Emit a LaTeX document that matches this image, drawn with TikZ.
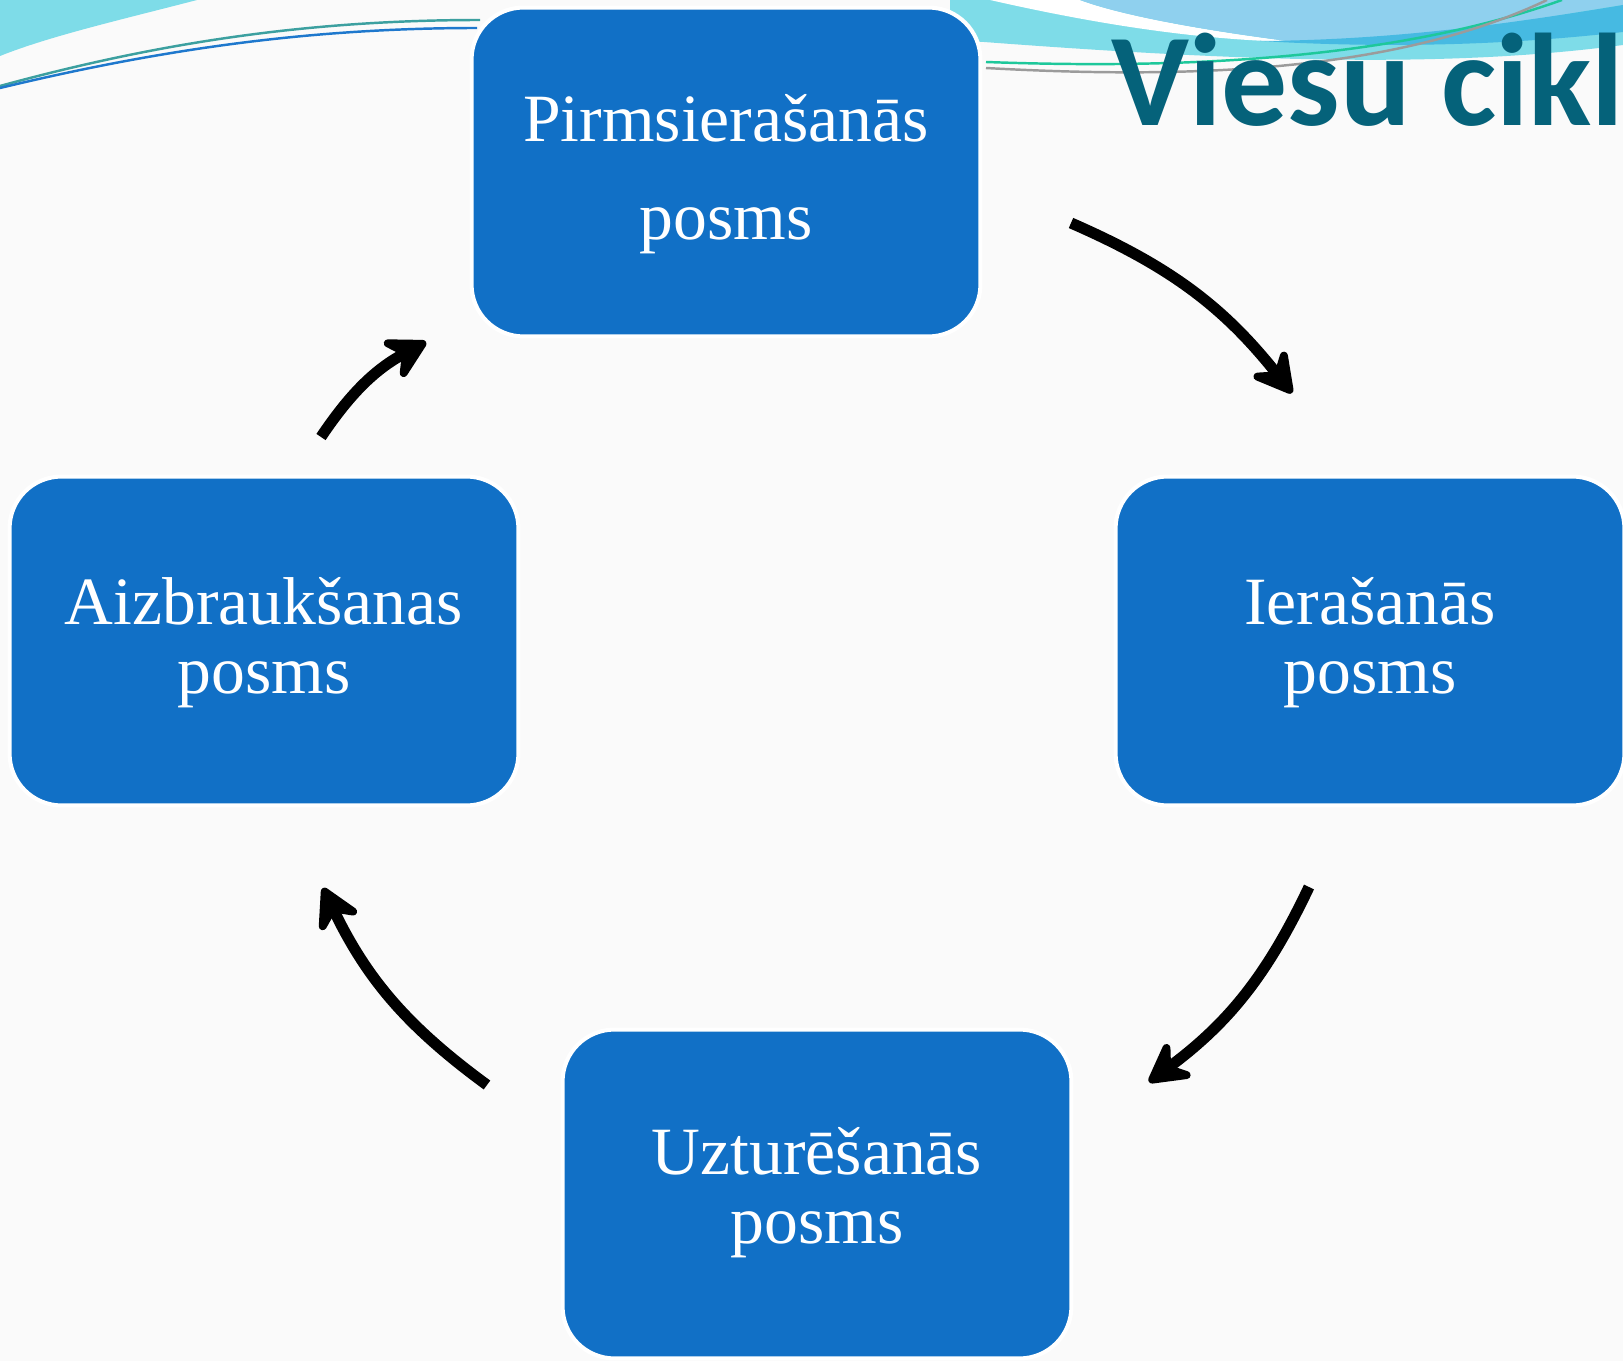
\documentclass[tikz,border=0pt]{standalone}
\usepackage{fontspec}
\setmainfont{Liberation Serif}
\newfontfamily\titlefont{Carlito}
\usetikzlibrary{arrows.meta}
\definecolor{stageblue}{RGB}{17,112,198}
\definecolor{titleteal}{RGB}{5,98,122}
\definecolor{wavecyan}{RGB}{126,220,232}
\definecolor{wavesky}{RGB}{143,208,238}
\definecolor{wavedeep}{RGB}{70,186,226}
\definecolor{pagebg}{RGB}{250,250,250}
\definecolor{lineteal}{RGB}{60,160,160}
\definecolor{lineblue}{RGB}{30,120,205}
\definecolor{linegreen}{RGB}{30,200,155}
\definecolor{linegray}{RGB}{155,155,155}
\tikzset{
  stage/.style={draw=white,line width=2.3pt,fill=stageblue,rounded corners=1.04cm,
    minimum width=10.18cm,minimum height=6.58cm,inner sep=0pt},
  stagetext/.style={text=white,font=\fontsize{38.5}{46}\selectfont,anchor=base,inner sep=0pt},
  cyclearrow/.style={line width=6.3pt,-{Stealth[length=29pt,width=32pt,inset=11pt,round]}},
}
\begin{document}
\begin{tikzpicture}[x=0.02cm,y=-0.02cm]
\useasboundingbox (0,0) rectangle (1623,1361);
\clip (0,0) rectangle (1623,1361);
\fill[pagebg] (0,0) rectangle (1623,1361);
% waves, top left
\fill[wavecyan] (0,0) -- (197,0) .. controls (120,20) and (50,36) .. (0,56) -- cycle;
\draw[lineteal,line width=1.4pt] (0,86) .. controls (150,45) and (300,20) .. (480,20);
\draw[lineblue,line width=1.4pt] (0,88) .. controls (150,52) and (300,28) .. (477,28);
% waves, top right
\fill[wavecyan] (950,0) -- (1623,0) -- (1623,45) .. controls (1450,68) and (1250,62) .. (984,42) -- (950,40) -- cycle;
\fill[white] (990,0) .. controls (1100,25) and (1200,40) .. (1295,42) .. controls (1200,30) and (1120,15) .. (1080,0) -- cycle;
\fill[wavesky] (1080,0) .. controls (1120,15) and (1200,30) .. (1295,42) .. controls (1450,40) and (1550,15) .. (1623,5) -- (1623,0) -- cycle;
\fill[wavedeep] (1260,41) .. controls (1400,40) and (1520,22) .. (1623,5) -- (1623,32) .. controls (1500,46) and (1380,48) .. (1260,41) -- cycle;
\draw[linegreen,line width=1.4pt] (986,62) .. controls (1150,68) and (1380,65) .. (1562,0);
\draw[linegray,line width=1.4pt] (986,68) .. controls (1200,80) and (1400,70) .. (1547,0);
\node[font=\titlefont\bfseries\fontsize{75}{80}\selectfont,text=titleteal,anchor=base west,inner sep=0pt,at={(1111,126)}] (title) {Viesu cikl};
% stages
\node[stage,at={(726,172)}] (pre) {};
\node[stage,at={(1370,641)}] (arr) {};
\node[stage,at={(817,1194)}] (stay) {};
\node[stage,at={(264,641)}] (dep) {};
\node[stagetext,at={(726,142)}] (preA) {Pirmsierašanās};
\node[stagetext,at={(726,240)}] (preB) {posms};
\node[stagetext,at={(1370,624)}] (arrA) {Ierašanās};
\node[stagetext,at={(1370,693)}] (arrB) {posms};
\node[stagetext,at={(817,1174)}] (stayA) {Uzturēšanās};
\node[stagetext,at={(817,1243)}] (stayB) {posms};
\node[stagetext,at={(264,624)}] (depA) {Aizbraukšanas};
\node[stagetext,at={(264,693)}] (depB) {posms};
% arrows
\coordinate (s1) at (1071,223);
\coordinate (e1) at (1292,393);
\coordinate (s2) at (1309,887);
\coordinate (e2) at (1149,1082);
\coordinate (s3) at (487,1085);
\coordinate (e3) at (323,888);
\coordinate (s4) at (321,437);
\coordinate (e4) at (426,342);
\draw[cyclearrow] (s1) to[bend left=14] (e1);
\draw[cyclearrow] (s2) to[bend left=14] (e2);
\draw[cyclearrow] (s3) to[bend left=14] (e3);
\draw[cyclearrow] (s4) to[bend left=14] (e4);
\end{tikzpicture}
\end{document}
